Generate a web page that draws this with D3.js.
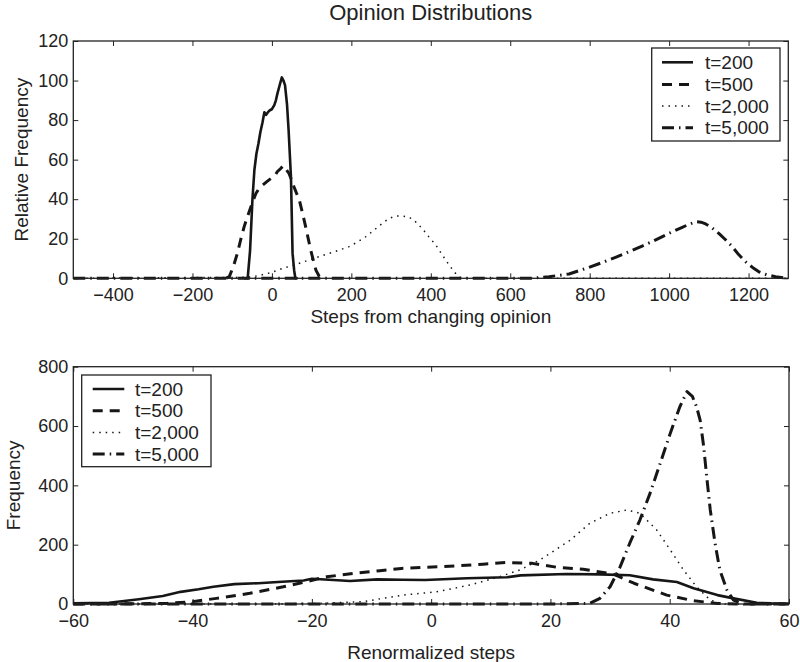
<!DOCTYPE html>
<html>
<head>
<meta charset="utf-8">
<script src="https://cdn.jsdelivr.net/npm/d3@7"></script>
<style>
  html, body { margin: 0; padding: 0; background: #fff; }
  svg { display: block; font-family: "Liberation Sans", Arial, Helvetica, sans-serif; }
  .axis text { font-size: 18px; fill: #222; }
  .axis path, .axis line { stroke: #222; }
</style>
</head>
<body>
<svg id="chart" width="800" height="662"></svg>
<script>
// ---------- Data ----------
const seriesNames = ["t=200", "t=500", "t=2,000", "t=5,000"];

// Top panel: Steps from changing opinion vs Relative Frequency
const topX200 = [-70,-61,-55,-49,-44,-39,-34,-29,-24,-19,-15,-10,-5,0,6,10,14,20,25,29,33,38,42,48,52,56,59,65];
const topY200 = [0,0,14,40,55,63,68,74,78.5,84,82.6,84,85,85.5,87.6,90,93.5,98,101.6,100,97.7,88,75,51,12.6,4,0,0];

const topX500 = [-115,-107,-97,-87,-78,-70,-62,-53,-46,-40,-32,-24,-12,1,8,14,22,29,36,43,50,56,62,69,77,85,92,98,105,111,119,125];
const topY500 = [0,1,6,12.6,20,26,31,36,40,43,45.5,47,49,51,52,54,55.5,57,55,53,49.5,46,43,39.6,33,26,19.5,14,8.5,4,1,0];

const topX2000 = [-500,-60,-30,0,27,60,94,120,144,170,194,215,236,258,278,295,312,328,345,362,379,395,412,430,446,460,471,480,1300];
const topY2000 = [0,0.5,1.5,3,5,7,9.3,11,12.6,14.3,16,18.3,21,24.5,27.8,30.3,31.5,31.5,31,28.5,25,21,17,11.5,6.7,3,0.8,0,0];

const topX5000 = [-500,650,698,748,798,832,865,900,932,962,991,1013,1033,1050,1067,1080,1092,1108,1125,1142,1159,1175,1192,1210,1226,1245,1268,1297];
const topY5000 = [0,0,0.8,2.2,5.5,8,10.6,13.5,16.3,19,21.9,24,25.8,27.3,28.6,28.4,27.5,25.5,22.7,19.5,16,12,8.4,5.5,3.3,1.8,0.8,0];

// Bottom panel: Renormalized steps vs Frequency
const botX200 = [-60,-54,-49,-45,-42,-39,-36.5,-33,-29,-25,-21.4,-20,-16.4,-13.6,-9,-5,-1,6,12.7,15,22.7,28.3,33.3,37.2,41.2,44,48,50.7,54.6,57,60];
const botY200 = [2,4.4,16,27,41,49.5,58,67,70,75,79,85,81,77.5,83,82,81,86.6,90,96.6,101,100,96.7,83,74,53,30,19,4.4,2,0.5];

const botX500 = [-60,-50,-44.3,-40,-36,-30.4,-24.8,-21,-17.5,-13,-8.6,-5,2,8.7,12.7,17,21,25.5,30.5,34,39.5,44,48,52,60];
const botY500 = [0,0.5,2,8,19,36,58,75,92,103,112,120,126,134,140,137,124,117,101,70,30,11,2,0,0];

const botX2000 = [-60,-30,-18.6,-11.4,-4.7,0.9,6.5,11.5,14.9,18.2,20.8,23.3,26.6,30,32.8,35,37.8,40.1,42.3,44.5,46.8,49,60];
const botY2000 = [0,0,2,8,30,41,64,92,115,148,182,215,272,306,317,306,250,182,115,58,13,0,0];

const botX5000 = [-60,-10,20,26.6,28.3,30,31.7,33.3,35,36.7,38.4,40.1,41.7,42.9,43.8,44.5,45.1,45.7,46.2,46.8,47.6,48.4,49.6,50.7,52.4,60];
const botY5000 = [0,0,0,2,19,58,126,205,283,373,474,576,665,716,700,665,620,530,429,317,205,115,47,13,0,0];

// Tick values
const topXTicks = [-400,-200,0,200,400,600,800,1000,1200];
const topYTicks = [0,20,40,60,80,100,120];
const botXTicks = [-60,-40,-20,0,20,40,60];
const botYTicks = [0,200,400,600,800];

// ---------- Styles ----------
const styles = [
  { width: 2.6, dash: null },
  { width: 3, dash: "10,7" },
  { width: 1.5, dash: "1.5,5" },
  { width: 3, dash: "12,5,1.5,5" }
];
const lineColor = "#161616";

const svg = d3.select("#chart");

function zip(xs, ys) { return xs.map((x, i) => [x, ys[i]]); }

function panel(opts) {
  const { left, right, top, bottom, xDomain, yDomain, xTicks, yTicks, series,
          xLabel, yLabel, xLabelY, yLabelX, xPad, legend } = opts;
  const x = d3.scaleLinear().domain(xDomain).range([left, right]);
  const y = d3.scaleLinear().domain(yDomain).range([bottom, top]);
  const g = svg.append("g");
  const fmt = d3.format("d");

  g.append("g").attr("class", "axis").attr("transform", `translate(0,${bottom})`)
    .call(d3.axisBottom(x).tickValues(xTicks).tickFormat(fmt).tickSizeInner(-5).tickSizeOuter(0).tickPadding(xPad));
  g.append("g").attr("class", "axis").attr("transform", `translate(0,${top})`)
    .call(d3.axisTop(x).tickValues(xTicks).tickFormat("").tickSizeInner(-5).tickSizeOuter(0));
  g.append("g").attr("class", "axis").attr("transform", `translate(${left},0)`)
    .call(d3.axisLeft(y).tickValues(yTicks).tickFormat(fmt).tickSizeInner(-5).tickSizeOuter(0).tickPadding(5));
  g.append("g").attr("class", "axis").attr("transform", `translate(${right},0)`)
    .call(d3.axisRight(y).tickValues(yTicks).tickFormat("").tickSizeInner(-5).tickSizeOuter(0));
  g.selectAll(".axis path").remove();
  g.selectAll(".axis line").attr("stroke-width", 1);

  const line = d3.line().x(d => x(d[0])).y(d => y(d[1]));
  series.forEach((s, i) => {
    g.append("path")
      .datum(s)
      .attr("d", line)
      .attr("fill", "none")
      .attr("stroke", lineColor)
      .attr("stroke-width", styles[i].width)
      .attr("stroke-dasharray", styles[i].dash)
      .attr("stroke-linejoin", "round");
  });

  // frame
  g.append("rect")
    .attr("x", left).attr("y", top)
    .attr("width", right - left).attr("height", bottom - top)
    .attr("fill", "none").attr("stroke", "#222").attr("stroke-width", 1.3);

  // labels
  g.append("text").attr("x", (left + right) / 2).attr("y", xLabelY)
    .attr("text-anchor", "middle").attr("font-size", 19).attr("fill", "#222").text(xLabel);
  g.append("text")
    .attr("transform", `translate(${yLabelX},${(top + bottom) / 2}) rotate(-90)`)
    .attr("text-anchor", "middle").attr("font-size", 19).attr("fill", "#222").text(yLabel);

  // legend
  const L = legend;
  const lg = g.append("g");
  lg.append("rect").attr("x", L.x).attr("y", L.y).attr("width", L.w).attr("height", L.h)
    .attr("fill", "#fff").attr("stroke", "#222").attr("stroke-width", 1.3);
  seriesNames.forEach((name, i) => {
    const cy = L.rowY[i];
    lg.append("line")
      .attr("x1", L.sx1).attr("x2", L.sx2).attr("y1", cy).attr("y2", cy)
      .attr("stroke", lineColor).attr("stroke-width", styles[i].width)
      .attr("stroke-dasharray", styles[i].dash);
    lg.append("text").attr("x", L.tx).attr("y", cy).attr("dy", "0.35em")
      .attr("font-size", 19).attr("fill", "#222").text(name);
  });
}

// Title
svg.append("text").attr("x", 430.7).attr("y", 20).attr("text-anchor", "middle")
  .attr("font-size", 22).attr("fill", "#222").text("Opinion Distributions");

panel({
  left: 73.3, right: 788.3, top: 41, bottom: 278.3,
  xDomain: [-500, 1300], yDomain: [0, 120],
  xTicks: topXTicks, yTicks: topYTicks,
  series: [zip(topX200, topY200), zip(topX500, topY500), zip(topX2000, topY2000), zip(topX5000, topY5000)],
  xLabel: "Steps from changing opinion", yLabel: "Relative Frequency",
  xLabelY: 323, yLabelX: 28, xPad: 10,
  legend: { x: 651.7, y: 48, w: 128.3, h: 93, rowY: [62.3, 84.5, 106, 127.7], sx1: 662, sx2: 693, tx: 705 }
});

panel({
  left: 73.3, right: 789, top: 366.7, bottom: 604,
  xDomain: [-60, 60], yDomain: [0, 800],
  xTicks: botXTicks, yTicks: botYTicks,
  series: [zip(botX200, botY200), zip(botX500, botY500), zip(botX2000, botY2000), zip(botX5000, botY5000)],
  xLabel: "Renormalized steps", yLabel: "Frequency",
  xLabelY: 659, yLabelX: 20, xPad: 10,
  legend: { x: 81.7, y: 375, w: 129.3, h: 91.7, rowY: [389, 410.8, 432.5, 454], sx1: 92.7, sx2: 124.3, tx: 135 }
});
</script>
</body>
</html>
